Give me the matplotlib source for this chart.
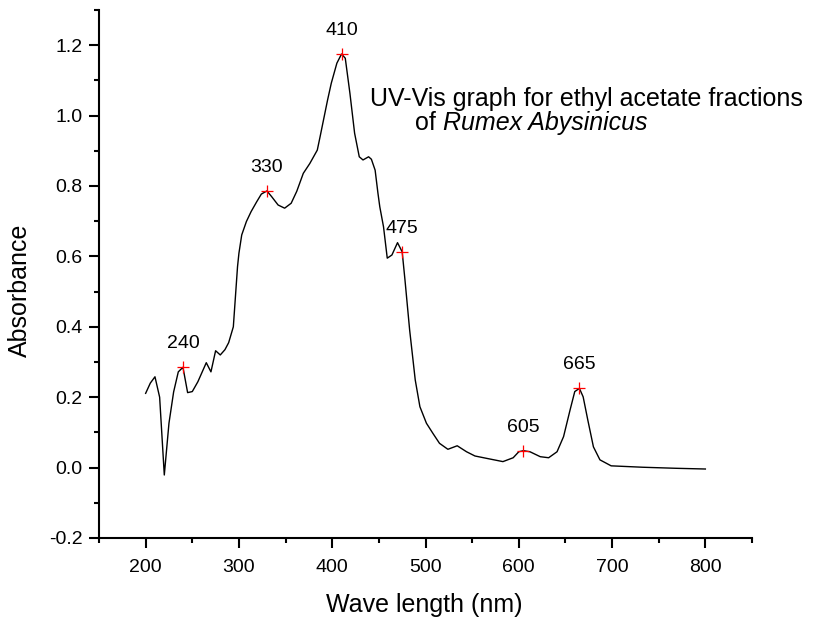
import matplotlib
matplotlib.use("Agg")
import matplotlib.pyplot as plt
from matplotlib.ticker import MultipleLocator

plt.rcParams['font.family'] = ['Liberation Sans', 'DejaVu Sans']

wavelength = [200, 205, 210, 215, 220, 225, 230, 235, 240, 245, 250, 256, 265, 270,
              275, 280, 285, 289, 294, 296, 298.5, 300, 303, 308, 313, 319, 324, 330,
              335, 342, 349, 356, 362, 369, 376, 384, 387, 395, 399, 405, 410, 414,
              419, 424, 429, 433, 439, 442, 446, 449, 451, 455, 459, 464, 470, 475,
              478, 483, 489, 494, 501, 508, 515, 524, 534, 544, 553, 566, 583, 594,
              600, 605, 612, 623, 632, 641, 648, 655, 660, 665, 669, 674, 680, 687,
              699, 733, 769, 800]
absorbance = [0.211, 0.240, 0.258, 0.200, -0.021, 0.126, 0.215, 0.272, 0.285, 0.213,
              0.216, 0.244, 0.298, 0.272, 0.332, 0.320, 0.335, 0.355, 0.400, 0.476,
              0.571, 0.609, 0.661, 0.699, 0.727, 0.755, 0.777, 0.786, 0.770, 0.746,
              0.737, 0.751, 0.785, 0.836, 0.864, 0.902, 0.940, 1.044, 1.092, 1.149,
              1.175, 1.163, 1.063, 0.950, 0.883, 0.874, 0.883, 0.876, 0.845, 0.780,
              0.741, 0.684, 0.595, 0.604, 0.639, 0.613, 0.533, 0.391, 0.249, 0.173,
              0.126, 0.097, 0.069, 0.052, 0.062, 0.045, 0.033, 0.026, 0.017, 0.028,
              0.045, 0.048, 0.045, 0.031, 0.028, 0.045, 0.088, 0.164, 0.216, 0.225,
              0.201, 0.135, 0.059, 0.022, 0.005, 0.001, -0.002, -0.004]

peak_wl = [240, 330, 410, 475, 605, 665]
peak_abs = [0.285, 0.786, 1.175, 0.613, 0.048, 0.225]
peak_labels = ["240", "330", "410", "475", "605", "665"]

x_ticks = [200, 300, 400, 500, 600, 700, 800]
y_ticks = [-0.2, 0.0, 0.2, 0.4, 0.6, 0.8, 1.0, 1.2]
y_tick_labels = ['-0.2', '0.0', '0.2', '0.4', '0.6', '0.8', '1.0', '1.2']

title_line1 = "UV-Vis graph for ethyl acetate fractions"
title_line2_prefix = "of"
title_line2_species = "Rumex Abysinicus"

W, H = 814, 623
fig = plt.figure(figsize=(W / 100, H / 100), dpi=100)
ax = fig.add_axes([99 / W, 1 - 538 / H, (752 - 99) / W, (538 - 10) / H])

ax.plot(wavelength, absorbance, color='black', lw=1.0)
ax.plot(peak_wl, peak_abs, ls='none', marker='+', color='red', ms=8, mew=0.9)
for x, y, t in zip(peak_wl, peak_abs, peak_labels):
    ax.annotate(t, (x, y), xytext=(0, 17), textcoords='offset points',
                ha='center', va='center', fontsize=14)

ax.text(440, 1.027, title_line1, fontsize=18, ha='left', va='baseline')
t2 = ax.text(489, 0.959, title_line2_prefix, fontsize=18, ha='left', va='baseline')
ax.annotate(title_line2_species, xy=(1, 0), xycoords=t2, xytext=(5, 0),
            textcoords='offset points', fontsize=18, ha='left', va='bottom',
            style='italic')

ax.set_xlim(150, 850)
ax.set_ylim(-0.2, 1.3)
ax.set_xticks(x_ticks)
ax.xaxis.set_minor_locator(MultipleLocator(50))
ax.set_yticks(y_ticks)
ax.set_yticklabels(y_tick_labels)
ax.yaxis.set_minor_locator(MultipleLocator(0.1))

for s in ['top', 'right']:
    ax.spines[s].set_visible(False)
for s in ['left', 'bottom']:
    ax.spines[s].set_linewidth(1.5)
ax.tick_params(which='major', direction='out', length=7, width=1.5, labelsize=14)
ax.tick_params(axis='x', which='major', pad=8)
ax.tick_params(axis='y', which='major', pad=5)
ax.tick_params(which='minor', direction='out', length=3.5, width=1.5)

fig.text(424.5 / W, 1 - 605 / H, 'Wave length (nm)', fontsize=18, ha='center', va='center')
fig.text(20 / W, 1 - 290 / H, 'Absorbance', fontsize=18, ha='center', va='center',
         rotation=90)

fig.savefig('out.png', dpi=100)
